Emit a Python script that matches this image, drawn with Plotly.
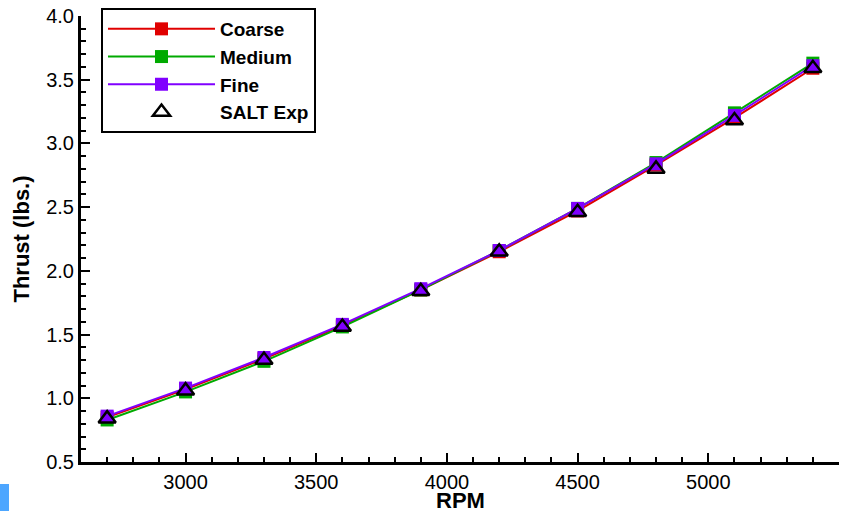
import plotly.graph_objects as go

rpm = [2700, 3000, 3300, 3600, 3900, 4200, 4500, 4800, 5100, 5400]
coarse = [0.85, 1.07, 1.31, 1.57, 1.85, 2.15, 2.47, 2.83, 3.20, 3.59]
medium = [0.83, 1.05, 1.29, 1.56, 1.85, 2.16, 2.49, 2.85, 3.24, 3.63]
fine = [0.86, 1.08, 1.32, 1.58, 1.86, 2.16, 2.49, 2.84, 3.22, 3.61]
salt_exp = [0.84, 1.06, 1.30, 1.56, 1.84, 2.15, 2.46, 2.80, 3.18, 3.59]

x_ticks = [3000, 3500, 4000, 4500, 5000, 5500]
y_ticks = [0.5, 1.0, 1.5, 2.0, 2.5, 3.0, 3.5, 4.0]

fig = go.Figure()
for name, vals, col in [("Coarse", coarse, "#e00000"),
                        ("Medium", medium, "#00aa00"),
                        ("Fine", fine, "#8000ff")]:
    fig.add_trace(go.Scatter(x=rpm, y=vals, name=name, mode="lines+markers",
                             line=dict(color=col, width=2),
                             marker=dict(symbol="square", size=13, color=col)))
fig.add_trace(go.Scatter(x=rpm, y=salt_exp, name="SALT Exp", mode="markers",
                         marker=dict(symbol="triangle-up-open", size=15, color="black",
                                     line=dict(width=2.5, color="black"))))

FONT = "Liberation Sans, Arial, sans-serif"
tick_font = dict(family=FONT, size=20, color="black")
fig.update_layout(
    width=861, height=511,
    margin=dict(l=81, r=22, t=16, b=49, autoexpand=False),
    paper_bgcolor="white", plot_bgcolor="white",
    font=dict(family=FONT, color="black"),
    xaxis=dict(range=[2600, 5500], tickvals=x_ticks, ticks="inside", ticklen=9, tickwidth=2,
               showline=True, linecolor="black", linewidth=3, showgrid=False, zeroline=False,
               minor=dict(dtick=100, ticks="inside", ticklen=5, tickwidth=1.5, tickcolor="black"),
               tickfont=tick_font, tickcolor="black"),
    yaxis=dict(range=[0.5, 4.0], tickvals=y_ticks, tickformat=".1f", ticks="inside", ticklen=9,
               tickwidth=2, showline=True, linecolor="black", linewidth=3, showgrid=False,
               zeroline=False,
               minor=dict(dtick=0.1, ticks="inside", ticklen=5, tickwidth=1.5, tickcolor="black"),
               title=dict(text="<b>Thrust (lbs.)</b>",
                          font=dict(family=FONT, size=22, color="black"), standoff=11),
               tickfont=tick_font, tickcolor="black"),
    legend=dict(x=20/758, y=454/446, xanchor="left", yanchor="top",
                bordercolor="black", borderwidth=2, bgcolor="white",
                font=dict(family=FONT, size=19, color="black", weight="bold"),
                itemwidth=107, tracegroupgap=0),
    annotations=[dict(text="<b>RPM</b>", xref="paper", yref="paper", x=0.5, y=-38/446,
                      xanchor="center", yanchor="middle", showarrow=False,
                      font=dict(family=FONT, size=22, color="black"))],
    shapes=[dict(type="rect", xref="paper", yref="paper", x0=-81/758, x1=-72/758,
                 y0=-49/446, y1=-22/446, fillcolor="#4da6ff", line=dict(width=0))],
)
fig.write_html("out.html", config={"displayModeBar": False},
               post_script="document.body.style.margin='0';")
